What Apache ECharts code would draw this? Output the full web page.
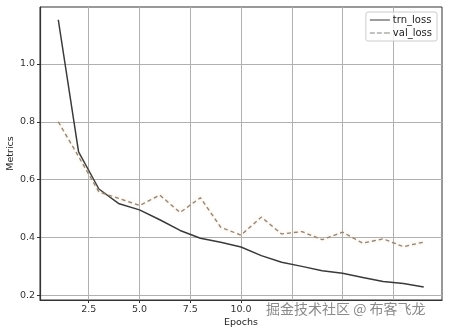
<!DOCTYPE html>
<html><head><meta charset="utf-8">
<script src="https://cdn.jsdelivr.net/npm/echarts@6/dist/echarts.min.js"></script>
<style>html,body{margin:0;padding:0;background:#fff}#c{width:450px;height:331px}</style>
</head><body><div id="c"></div>
<script>
const epochs = [1,2,3,4,5,6,7,8,9,10,11,12,13,14,15,16,17,18,19];
const trnLoss = [1.152,0.696,0.568,0.517,0.496,0.462,0.425,0.398,0.384,0.368,0.338,0.315,0.301,0.286,0.277,0.263,0.249,0.242,0.230];
const valLoss = [0.800,0.680,0.558,0.535,0.511,0.547,0.487,0.538,0.436,0.409,0.471,0.413,0.421,0.393,0.419,0.381,0.396,0.369,0.385];
const xTicks = [2.5,5.0,7.5,10.0,12.5,15.0,17.5];
const yTicks = [0.2,0.4,0.6,0.8,1.0];
const seriesNames = ['trn_loss','val_loss'];

const chart = echarts.init(document.getElementById('c'), null, {renderer:'canvas'});
const font = 'DejaVu Sans';
chart.setOption({
  animation:false,
  backgroundColor:'#fff',
  grid:{left:40,right:8,top:7,bottom:31,containLabel:false,outerBoundsMode:'none',show:true,borderColor:'#333',borderWidth:1,backgroundColor:'transparent'},
  legend:{
    right:13,top:12,orient:'vertical',itemGap:3,itemWidth:20,itemHeight:10,
    padding:[3,5,3,4],borderColor:'#ccc',borderWidth:1,borderRadius:2,backgroundColor:'rgba(255,255,255,0.8)',
    textStyle:{fontFamily:font,fontSize:10,color:'#222',padding:[0,0,0,-2]},
    data:[{name:seriesNames[0],icon:'path://M0,4.5L20,4.5L20,5.5L0,5.5Z'},{name:seriesNames[1],icon:'path://M0,4.5L5,4.5L5,5.5L0,5.5ZM7,4.5L12,4.5L12,5.5L7,5.5ZM14,4.5L20,4.5L20,5.5L14,5.5Z'}]
  },
  xAxis:{
    type:'value',min:0.1,max:19.9,name:'Epochs',nameLocation:'middle',nameGap:18,nameMoveOverlap:false,
    nameTextStyle:{fontFamily:font,fontSize:9.5,color:'#222'},
    axisLine:{show:true,onZero:false,lineStyle:{color:'#333',width:1.2}},
    axisTick:{show:true,length:3,lineStyle:{color:'#333'},customValues:xTicks},
    axisLabel:{fontFamily:font,fontSize:9.5,color:'#333',margin:5,customValues:xTicks,formatter:v=>v.toFixed(1)},
    splitLine:{show:true,lineStyle:{color:'#b0b0b0',width:1}}
  },
  yAxis:{
    type:'value',min:0.185,max:1.196,name:'Metrics',nameLocation:'middle',nameGap:24,nameMoveOverlap:false,
    nameTextStyle:{fontFamily:font,fontSize:9.5,color:'#222'},
    axisLine:{show:true,onZero:false,lineStyle:{color:'#333',width:1.2}},
    axisTick:{show:true,length:3,lineStyle:{color:'#333'},customValues:yTicks},
    axisLabel:{fontFamily:font,fontSize:9.5,color:'#333',margin:5,customValues:yTicks,formatter:v=>v.toFixed(1)},
    splitLine:{show:true,lineStyle:{color:'#b0b0b0',width:1}}
  },
  series:[
    {name:seriesNames[0],type:'line',showSymbol:false,symbol:'none',data:epochs.map((e,i)=>[e,trnLoss[i]]),
     itemStyle:{color:'#3a3a3a'},lineStyle:{color:'#3a3a3a',width:1.5}},
    {name:seriesNames[1],type:'line',showSymbol:false,symbol:'none',data:epochs.map((e,i)=>[e,valLoss[i]]),
     itemStyle:{color:'#8a8580'},lineStyle:{color:'#8a8580',width:1.3,type:[4,3],shadowColor:'rgba(245,190,130,0.7)',shadowBlur:3}}
  ],
  graphic:[{type:'text',left:264,top:301,z:100,style:{text:'掘金技术社区 @ 布客飞龙',fontFamily:'Noto Sans CJK SC',fontSize:14,fill:'#8a8a8a',backgroundColor:'rgba(255,255,255,0.95)',padding:[1,2]}}]
});
</script></body></html>
